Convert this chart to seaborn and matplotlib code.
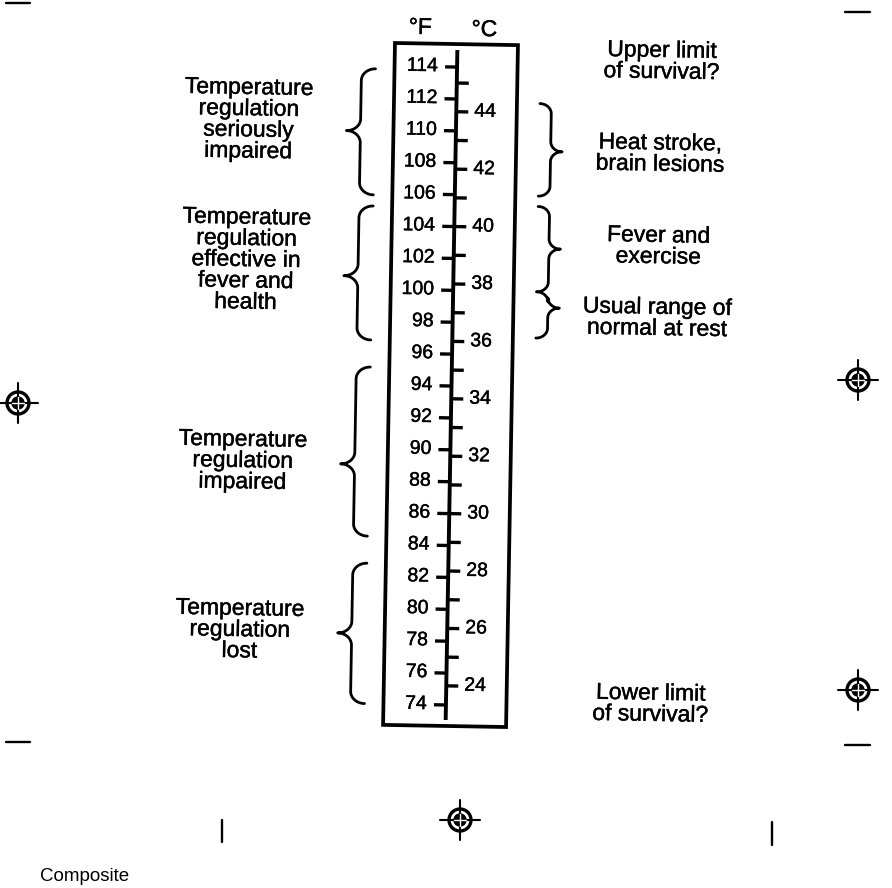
import numpy as np
import matplotlib
matplotlib.use("Agg")
import matplotlib.pyplot as plt
import matplotlib.patheffects as pe
from matplotlib.transforms import Affine2D
from matplotlib.patches import Circle, Rectangle
import seaborn as sns

# ---------------- data ----------------
fahrenheit_ticks = [74, 76, 78, 80, 82, 84, 86, 88, 90, 92, 94, 96, 98, 100,
                    102, 104, 106, 108, 110, 112, 114]
celsius_ticks = [24, 25, 26, 27, 28, 29, 30, 31, 32, 33, 34, 35, 36, 37, 38,
                 39, 40, 41, 42, 43, 44, 45]
celsius_labels = [24, 26, 28, 30, 32, 34, 36, 38, 40, 42, 44]

left_texts = ["Temperature\nregulation\nseriously\nimpaired",
              "Temperature\nregulation\neffective in\nfever and\nhealth",
              "Temperature\nregulation\nimpaired",
              "Temperature\nregulation\nlost"]
left_text_f = [110.5, 101.7, 89.1, 78.5]
left_brace_f = [(105.9, 113.8), (96.8, 105.2), (84.5, 95.1), (74.0, 82.8)]
left_brace_tip_f = [109.9, 100.8, 89.0, 78.4]

right_texts = ["Upper limit\nof survival?",
               "Heat stroke,\nbrain lesions",
               "Fever and\nexercise",
               "Usual range of\nnormal at rest",
               "Lower limit\nof survival?"]
right_text_f = [114.6, 108.8, 103.0, 98.5, 74.3]
right_brace_f = [(106.0, 111.8), (100.0, 105.35), (97.1, 100.0)]
right_brace_tip_f = [108.8, 102.7, 99.0]

# ---------------- layout ----------------
W, H = 892, 888
PX_PER_F = 15.95
Y_114 = 67.0


def f_at(ypix):
    return 114 - (ypix - Y_114) / PX_PER_F


sns.set_theme(style="white")
plt.rcParams['font.family'] = ['Liberation Sans', 'DejaVu Sans']

fig = plt.figure(figsize=(W / 100, H / 100), dpi=100)
fig.patch.set_facecolor('white')
ax = fig.add_axes([0, 0, 1, 1])
ax.set_xlim(0, W)
ax.set_ylim(f_at(H), f_at(0))
ax.axis('off')

rot = Affine2D().rotate_deg_around(450, H - 386, -1.0)
tr = ax.transData + rot
TROT = -1.0

AX_X = 451.5
K = 'black'
TICK_FS = 14
NOTE_FS = 16.5
LS = 0.9
INK = [pe.withStroke(linewidth=0.3, foreground=K)]

# box
box = Rectangle((389, f_at(726)), 123, f_at(44) - f_at(726), fill=False,
                lw=2.7, ec=K, transform=tr, joinstyle='miter')
ax.add_patch(box)

# scale line
ax.plot([AX_X, AX_X], [f_at(50), f_at(720)], color=K, lw=2.8,
        solid_capstyle='butt', transform=tr)

# Fahrenheit ticks + labels
for f in fahrenheit_ticks:
    ax.plot([AX_X - 12, AX_X], [f, f], color=K, lw=2.4,
            solid_capstyle='butt', transform=tr)
    ax.text(AX_X - 19, f, str(f), ha='right', va='center', fontsize=TICK_FS,
            transform=tr, rotation=TROT, rotation_mode='anchor', color=K,
            path_effects=INK)

# Celsius ticks + labels
for c in celsius_ticks:
    cf = c * 9 / 5 + 32
    ax.plot([AX_X, AX_X + 12], [cf, cf], color=K, lw=2.4,
            solid_capstyle='butt', transform=tr)
for c in celsius_labels:
    cf = c * 9 / 5 + 32
    ax.text(AX_X + 18, cf, str(c), ha='left', va='center', fontsize=TICK_FS,
            transform=tr, rotation=TROT, rotation_mode='anchor', color=K,
            path_effects=INK)

# headers
ax.text(414, f_at(28), "°F", ha='center', va='center', fontsize=16.5,
        transform=tr, rotation=TROT, rotation_mode='anchor', color=K,
        path_effects=INK)
ax.text(478, f_at(29), "°C", ha='center', va='center', fontsize=16.5,
        transform=tr, rotation=TROT, rotation_mode='anchor', color=K,
        path_effects=INK)


def brace(x_open, x_tip, f_lo, f_hi, f_tip, r_px=12, n=30):
    r = r_px / PX_PER_F
    xm = (x_open + x_tip) / 2
    a1 = x_open - xm
    a2 = xm - x_tip
    t = np.linspace(0, np.pi / 2, n)
    xs, ys = [], []
    xs += list(x_open - a1 * np.sin(t))
    ys += list(f_hi - r + r * np.cos(t))
    xs += list(x_tip + a2 * np.cos(t))
    ys += list(f_tip + r - r * np.sin(t))
    xs += list(x_tip + a2 * np.sin(t))
    ys += list(f_tip - r + r * np.cos(t))
    xs += list(xm + a1 * (1 - np.cos(t)))
    ys += list(f_lo + r - r * np.sin(t))
    ax.plot(xs, ys, color=K, lw=2.0, transform=tr, solid_capstyle='round')


for (lo, hi), tip in zip(left_brace_f, left_brace_tip_f):
    brace(370, 342, lo, hi, tip)
for (lo, hi), tip in zip(right_brace_f, right_brace_tip_f):
    brace(535, 558, lo, hi, tip, r_px=10)

for txt, f in zip(left_texts, left_text_f):
    ax.text(244, f, txt, ha='center', va='center', fontsize=NOTE_FS,
            linespacing=LS, multialignment='center', transform=tr,
            rotation=TROT, rotation_mode='anchor', color=K,
            path_effects=INK)
for txt, f in zip(right_texts, right_text_f):
    ax.text(656, f, txt, ha='center', va='center', fontsize=NOTE_FS,
            linespacing=LS, multialignment='center', transform=tr,
            rotation=TROT, rotation_mode='anchor', color=K,
            path_effects=INK)

# ---------------- print marks (pixel overlay) ----------------
ax2 = fig.add_axes([0, 0, 1, 1], facecolor='none')
ax2.set_xlim(0, W)
ax2.set_ylim(H, 0)
ax2.axis('off')


def reg_mark(cx, cy):
    ax2.plot([cx - 20, cx + 20], [cy, cy], color=K, lw=1.5)
    ax2.plot([cx, cx], [cy - 20, cy + 20], color=K, lw=1.5)
    ax2.add_patch(Circle((cx, cy), 11, fill=False, lw=2.4, ec=K))
    ax2.add_patch(Circle((cx, cy), 6, color=K))
    ax2.plot([cx - 6, cx + 6], [cy, cy], color='white', lw=1.0)
    ax2.plot([cx, cx], [cy - 6, cy + 6], color='white', lw=1.0)


for cx, cy in [(18, 403), (858, 380), (858, 690), (460, 820)]:
    reg_mark(cx, cy)

for x0, x1, y in [(6, 30, 3), (845, 870, 12), (6, 30, 742), (845, 870, 745)]:
    ax2.plot([x0, x1], [y, y], color=K, lw=1.7)
for x, y0, y1 in [(222, 820, 842), (772, 822, 845)]:
    ax2.plot([x, x], [y0, y1], color=K, lw=1.7)

ax2.text(40, 876, "Composite", ha='left', va='center', fontsize=13.5, color=K)

fig.savefig("out.png", dpi=100, facecolor='white')
